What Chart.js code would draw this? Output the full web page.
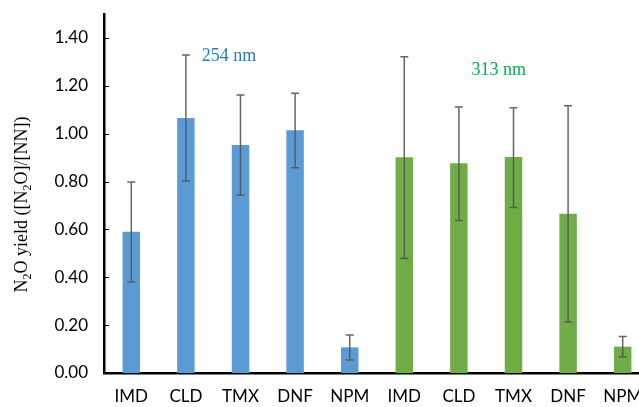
<!DOCTYPE html>
<html>
<head>
<meta charset="utf-8">
<script src="https://cdn.jsdelivr.net/npm/chart.js@4.4.1/dist/chart.umd.min.js"></script>
<style>
  html, body { margin: 0; padding: 0; background: #fff; overflow: hidden; }
</style>
</head>
<body>
<canvas id="yieldChart" width="650" height="407"></canvas>
<script>
const labels = ['IMD', 'CLD', 'TMX', 'DNF', 'NPM', 'IMD', 'CLD', 'TMX', 'DNF', 'NPM'];
const yieldValues = [0.59, 1.065, 0.953, 1.014, 0.107, 0.901, 0.876, 0.902, 0.665, 0.11];
const errHigh = [0.798, 1.329, 1.162, 1.169, 0.159, 1.321, 1.111, 1.108, 1.117, 0.153];
const errLow = [0.38, 0.802, 0.743, 0.858, 0.054, 0.478, 0.637, 0.692, 0.213, 0.067];
const barColors = ['#5B9BD5', '#5B9BD5', '#5B9BD5', '#5B9BD5', '#5B9BD5',
                   '#70AD47', '#70AD47', '#70AD47', '#70AD47', '#70AD47'];

// wavelength notes: [text, category position, y value, colour]
const notes = [
  ['254 nm', 1.79, 1.324, '#2A7AC7'],
  ['313 nm', 6.73, 1.265, '#00B050']
];

// y title pieces: [text, isSubscript]
const yTitle = [['N', 0], ['2', 1], ['O yield ([N', 0], ['2', 1], ['O]/[NN])', 0]];

const extras = {
  id: 'extras',
  afterDatasetsDraw(chart) {
    const ctx = chart.ctx;
    const x = chart.scales.x;
    const y = chart.scales.y;
    const area = chart.chartArea;

    // error bars
    ctx.save();
    ctx.strokeStyle = 'rgba(85,85,85,0.9)';
    ctx.lineWidth = 1.5;
    for (let i = 0; i < labels.length; i++) {
      const px = x.getPixelForValue(i);
      const top = y.getPixelForValue(errHigh[i]);
      const bot = y.getPixelForValue(errLow[i]);
      ctx.beginPath();
      ctx.moveTo(px, top);
      ctx.lineTo(px, bot);
      ctx.moveTo(px - 4, top);
      ctx.lineTo(px + 4, top);
      ctx.moveTo(px - 4, bot);
      ctx.lineTo(px + 4, bot);
      ctx.stroke();
    }
    ctx.restore();

    // short tick marks inside the y axis
    ctx.save();
    ctx.strokeStyle = '#000';
    ctx.lineWidth = 1;
    y.ticks.forEach(t => {
      const py = Math.round(y.getPixelForValue(t.value)) + 0.5;
      ctx.beginPath();
      ctx.moveTo(area.left, py);
      ctx.lineTo(area.left + 5, py);
      ctx.stroke();
    });
    ctx.restore();

    // wavelength labels
    ctx.save();
    ctx.font = '18px "Liberation Serif", "Times New Roman", serif';
    ctx.textAlign = 'center';
    ctx.textBaseline = 'middle';
    notes.forEach(n => {
      const i0 = Math.floor(n[1]);
      const f = n[1] - i0;
      const px = x.getPixelForValue(i0) + f * (x.getPixelForValue(i0 + 1) - x.getPixelForValue(i0));
      ctx.fillStyle = n[3];
      ctx.fillText(n[0], px, y.getPixelForValue(n[2]));
    });
    ctx.restore();

    // rotated y title with subscripts
    ctx.save();
    const big = '18px "Liberation Serif", "Times New Roman", serif';
    const small = '12px "Liberation Serif", "Times New Roman", serif';
    let total = 0;
    yTitle.forEach(p => { ctx.font = p[1] ? small : big; total += ctx.measureText(p[0]).width; });
    ctx.translate(27, (area.top + area.bottom) / 2 + 11);
    ctx.rotate(-Math.PI / 2);
    ctx.fillStyle = '#000';
    ctx.textBaseline = 'alphabetic';
    let cx = -total / 2;
    yTitle.forEach(p => {
      ctx.font = p[1] ? small : big;
      ctx.fillText(p[0], cx, p[1] ? 4 : 0);
      cx += ctx.measureText(p[0]).width;
    });
    ctx.restore();
  }
};

new Chart(document.getElementById('yieldChart'), {
  type: 'bar',
  data: {
    labels: labels,
    datasets: [{
      data: yieldValues,
      backgroundColor: barColors,
      borderWidth: 0,
      barPercentage: 0.32,
      categoryPercentage: 1
    }]
  },
  options: {
    responsive: false,
    animation: false,
    layout: { padding: 0 },
    plugins: {
      legend: { display: false },
      tooltip: { enabled: false }
    },
    scales: {
      x: {
        offset: true,
        grid: { display: false, drawTicks: false },
        border: { display: true, color: '#000', width: 2.5 },
        ticks: { color: '#000', padding: 13, maxRotation: 0, font: { family: 'Lato', size: 17 } },
        afterFit: s => { s.height = 34; s.paddingLeft = 0; s.paddingRight = 0; }
      },
      y: {
        min: 0,
        max: 1.5,
        grid: { display: false, drawTicks: false },
        border: { display: true, color: '#000', width: 2.5 },
        ticks: {
          stepSize: 0.2,
          includeBounds: false,
          padding: 16,
          color: '#000',
          font: { family: 'Lato', size: 17 },
          callback: v => Number(v).toFixed(2)
        },
        afterFit: s => { s.width = 104; s.paddingTop = 14; s.paddingBottom = 0; }
      }
    }
  },
  plugins: [extras]
});
</script>
</body>
</html>
